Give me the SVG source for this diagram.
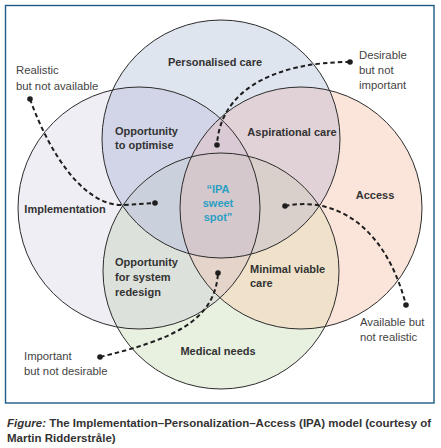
<svg xmlns="http://www.w3.org/2000/svg" width="441" height="448" viewBox="0 0 441 448">
<style>
.b{font-family:"Liberation Sans",Arial,sans-serif;font-weight:bold;font-size:11px;fill:#333}
.r{font-family:"Liberation Sans",Arial,sans-serif;font-size:11.3px;fill:#444}
.sw{font-family:"Liberation Sans",Arial,sans-serif;font-weight:bold;font-size:11px;fill:#2a9fc3}
.cap{font-family:"Liberation Sans",Arial,sans-serif;font-weight:bold;font-size:11.5px;fill:#333}
.ol{fill:none;stroke:#2b2b2b;stroke-width:1}
.dash{fill:none;stroke:#1e1e1e;stroke-width:2;stroke-dasharray:4.5 3}
.dot{fill:#1e1e1e}
</style>
<defs>
<clipPath id="cL"><circle cx="139" cy="208" r="121"/></clipPath>
<clipPath id="cR"><circle cx="301" cy="208" r="121"/></clipPath>
<clipPath id="cT"><circle cx="221" cy="139" r="119"/></clipPath>
<clipPath id="cB"><circle cx="221" cy="271" r="118"/></clipPath>
</defs>
<rect x="0" y="0" width="441" height="448" fill="#fff"/>
<rect x="5.5" y="5.5" width="428.5" height="397.5" fill="#fff" stroke="#1f5c85" stroke-width="1.4"/>
<g id="fills">
<circle cx="139" cy="208" r="121" fill="#efeef5"/>
<circle cx="301" cy="208" r="121" fill="#fbe5da"/>
<circle cx="221" cy="139" r="119" fill="#dfe5ef"/>
<circle cx="221" cy="271" r="118" fill="#e8f0e0"/>
<circle cx="221" cy="139" r="119" fill="#d2d5e7" clip-path="url(#cL)"/>
<circle cx="301" cy="208" r="121" fill="#e0d2d6" clip-path="url(#cT)"/>
<circle cx="221" cy="271" r="118" fill="#f0e2ca" clip-path="url(#cR)"/>
<circle cx="221" cy="271" r="118" fill="#dde1db" clip-path="url(#cL)"/>
<g clip-path="url(#cL)"><circle cx="301" cy="208" r="121" fill="#d9cad6" clip-path="url(#cT)"/></g>
<g clip-path="url(#cL)"><circle cx="301" cy="208" r="121" fill="#e4d4c9" clip-path="url(#cB)"/></g>
<g clip-path="url(#cL)"><circle cx="221" cy="139" r="119" fill="#cbd1dc" clip-path="url(#cB)"/></g>
<g clip-path="url(#cR)"><circle cx="221" cy="139" r="119" fill="#dad0cb" clip-path="url(#cB)"/></g>
<g clip-path="url(#cL)"><g clip-path="url(#cR)"><circle cx="221" cy="139" r="119" fill="#d5c8cc" clip-path="url(#cB)"/></g></g>
</g>
<g id="implementation">
<circle class="ol" cx="139" cy="208" r="121"/>
<text class="b" x="65" y="213" text-anchor="middle">Implementation</text>
</g>
<g id="access">
<circle class="ol" cx="301" cy="208" r="121"/>
<text class="b" x="375" y="199" text-anchor="middle">Access</text>
</g>
<g id="personalised-care">
<circle class="ol" cx="221" cy="139" r="119"/>
<text class="b" x="215" y="66" text-anchor="middle">Personalised care</text>
</g>
<g id="medical-needs">
<circle class="ol" cx="221" cy="271" r="118"/>
<text class="b" x="218" y="355" text-anchor="middle">Medical needs</text>
</g>
<g id="opportunity-to-optimise">
<text class="b" x="115" y="135">Opportunity</text>
<text class="b" x="115" y="149">to optimise</text>
</g>
<g id="aspirational-care">
<text class="b" x="292" y="136" text-anchor="middle">Aspirational care</text>
</g>
<g id="sweet-spot">
<text class="sw" x="218" y="193" text-anchor="middle">“IPA</text>
<text class="sw" x="218" y="207" text-anchor="middle">sweet</text>
<text class="sw" x="218" y="221" text-anchor="middle">spot”</text>
</g>
<g id="opportunity-for-system-redesign">
<text class="b" x="115" y="266">Opportunity</text>
<text class="b" x="115" y="281">for system</text>
<text class="b" x="115" y="296">redesign</text>
</g>
<g id="minimal-viable-care">
<text class="b" x="250" y="273">Minimal viable</text>
<text class="b" x="250" y="287">care</text>
</g>
<g id="connectors">
<path class="dash" d="M30,99 C50,155 85,207 124,205 C135,204.5 145,203.5 155,203"/>
<circle class="dot" cx="30" cy="99" r="2.8"/>
<circle class="dot" cx="155" cy="203" r="2.8"/>
<path class="dash" d="M350,62 C275,62 220,90 217,145"/>
<circle class="dot" cx="350" cy="62" r="2.8"/>
<circle class="dot" cx="217" cy="145" r="2.8"/>
<path class="dash" d="M285,206 C335,196 385,225 406,305"/>
<circle class="dot" cx="285" cy="206" r="2.8"/>
<circle class="dot" cx="406" cy="305" r="2.8"/>
<path class="dash" d="M100,357 C170,340 215,322 218,273"/>
<circle class="dot" cx="100" cy="357" r="2.8"/>
<circle class="dot" cx="218" cy="273" r="2.8"/>
</g>
<g id="annotations">
<text class="r" x="16" y="74">Realistic</text>
<text class="r" x="16" y="90">but not available</text>
<text class="r" x="359" y="59">Desirable</text>
<text class="r" x="359" y="74">but not</text>
<text class="r" x="359" y="89">important</text>
<text class="r" x="360" y="326">Available but</text>
<text class="r" x="360" y="341">not realistic</text>
<text class="r" x="24" y="360">Important</text>
<text class="r" x="24" y="375">but not desirable</text>
</g>
<g id="caption">
<text class="cap" x="7" y="427"><tspan font-style="italic">Figure:</tspan> The Implementation–Personalization–Access (IPA) model (courtesy of</text>
<text class="cap" x="7" y="442">Martin Ridderstråle)</text>
</g>
</svg>
